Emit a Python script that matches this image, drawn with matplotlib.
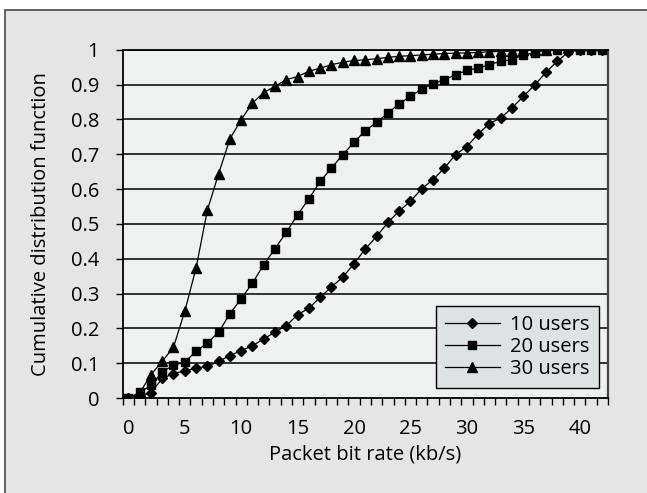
"""
CDF of packet bit rate for 10, 20 and 30 users
"""
import matplotlib
matplotlib.use("Agg")
import matplotlib.pyplot as plt
from matplotlib.patches import Rectangle

plt.rcParams['font.family'] = ['Open Sans', 'DejaVu Sans']

# data (x is a category axis 0..42)
rate = list(range(43))

users10 = [0.0, 0.007, 0.015, 0.056, 0.070, 0.078, 0.086, 0.091, 0.105, 0.122,
           0.136, 0.150, 0.170, 0.189, 0.208, 0.239, 0.258, 0.289, 0.319, 0.347,
           0.386, 0.428, 0.464, 0.504, 0.537, 0.565, 0.601, 0.627, 0.660, 0.699,
           0.722, 0.758, 0.788, 0.804, 0.833, 0.866, 0.898, 0.935, 0.967, 0.993,
           1.0, 1.0, 1.0]

users20 = [0.0, 0.016, 0.036, 0.075, 0.094, 0.103, 0.134, 0.158, 0.189, 0.242,
           0.285, 0.330, 0.383, 0.429, 0.476, 0.526, 0.572, 0.622, 0.660, 0.699,
           0.734, 0.768, 0.791, 0.818, 0.845, 0.866, 0.887, 0.902, 0.914, 0.928,
           0.941, 0.947, 0.957, 0.967, 0.971, 0.986, 0.990, 1.0, 1.0, 1.0,
           1.0, 1.0, 1.0]

users30 = [0.0, 0.014, 0.067, 0.105, 0.146, 0.249, 0.373, 0.539, 0.644, 0.744,
           0.799, 0.847, 0.877, 0.895, 0.914, 0.923, 0.938, 0.947, 0.957, 0.964,
           0.969, 0.971, 0.974, 0.978, 0.981, 0.983, 0.985, 0.987, 0.989, 0.990,
           0.991, 0.992, 0.994, 0.995, 0.996, 0.998, 0.999, 1.0]

fs = 14.5

fig = plt.figure(figsize=(6.47, 4.93), dpi=100, facecolor='white')

# grey panel behind everything, with a border on the top and left only visible
fig.patches.append(Rectangle((5 / 647, -0.1), 1.2, (483 / 493) + 0.1,
                             transform=fig.transFigure, facecolor='#e5e5e5',
                             edgecolor='#555555', linewidth=1.3, zorder=-10))

ax = fig.add_axes([122.7 / 647, 95 / 493, 485.3 / 647, 348.3 / 493])
ax.set_facecolor('#eef1f0')

# horizontal grid lines
for g in [i / 10 for i in range(1, 11)]:
    ax.axhline(g, color='#111111', linewidth=1.2, zorder=1)

ax.plot(rate[:len(users10)], users10, color='black', linewidth=0.9,
        marker='D', markersize=5.5, label='10 users', zorder=3)
ax.plot(rate[:len(users20)], users20, color='black', linewidth=0.9,
        marker='s', markersize=6, label='20 users', zorder=4)
ax.plot(rate[:len(users30)], users30, color='black', linewidth=0.9,
        marker='^', markersize=7, label='30 users', zorder=2)

ax.set_xlim(-0.5, 42.5)
ax.set_ylim(0, 1)

ax.set_xticks(range(0, 41, 5))
ax.set_xticklabels([str(v) for v in range(0, 41, 5)])
ax.set_xticks([v - 0.5 for v in range(44)], minor=True)
ax.tick_params(axis='x', which='major', length=0, pad=15, labelsize=fs)
ax.tick_params(axis='x', which='minor', length=5, width=1.0, direction='out')

ax.set_yticks([i / 10 for i in range(11)])
ax.set_yticklabels(['0', '0.1', '0.2', '0.3', '0.4', '0.5', '0.6', '0.7',
                    '0.8', '0.9', '1'])
ax.tick_params(axis='y', length=5, width=1.0, direction='out', pad=12,
               labelsize=fs)

for side in ['left', 'bottom', 'top']:
    ax.spines[side].set_color('black')
    ax.spines[side].set_linewidth(1.3)
ax.spines['right'].set_color('#444444')
ax.spines['right'].set_linewidth(1.6)

ax.set_xlabel('Packet bit rate (kb/s)', fontsize=fs, labelpad=4)
ax.set_ylabel('Cumulative distribution function', fontsize=fs, labelpad=14)

leg = ax.legend(loc='lower right', bbox_to_anchor=(0.981, 0.029), fontsize=fs,
                frameon=True, fancybox=False, edgecolor='black',
                facecolor='#dde3e2', framealpha=1, handlelength=2.75,
                labelspacing=0.1, borderpad=0.45, handletextpad=0.5,
                borderaxespad=0)
leg.get_frame().set_linewidth(1.0)

fig.savefig('out.png', dpi=100)
